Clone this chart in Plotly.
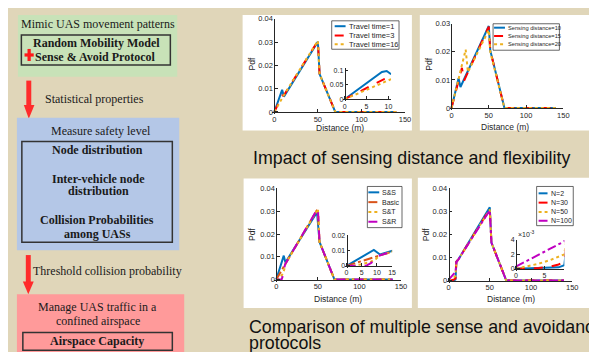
import plotly.graph_objects as go

W, H = 597, 352
def fx(p): return p / W
def fy(p): return 1 - p / H

# ---------------- data ----------------
# Panel 1: impact of travel time
p1_names = ["Travel time=1", "Travel time=3", "Travel time=16"]
p1_x = [[0, 8, 9, 11, 50, 52, 70, 140],
        [0, 9, 11, 50, 52, 70, 140],
        [0, 10, 50, 52, 70, 140]]
p1_y = [[0, 0.0092, 0.0095, 0.0066, 0.0302, 0.0163, 0, 0],
        [0, 0.0070, 0.0072, 0.0305, 0.0163, 0, 0],
        [0, 0.0066, 0.0306, 0.0163, 0, 0]]
p1_inset_x = [[0, 8.5, 9.6, 10.6], [0, 9, 10, 10.6], [0, 10.6]]
p1_inset_y = [[0, 0.094, 0.097, 0.086], [0, 0.069, 0.072, 0.071], [0, 0.069]]

# Panel 2: impact of sensing distance
p2_names = ["Sensing distance=10", "Sensing distance=15", "Sensing distance=20"]
p2_x = [[0, 9.5, 12, 50, 52, 71, 140],
        [0, 10, 14, 17, 50, 52, 71, 140],
        [0, 19, 22, 50, 52, 71, 140]]
p2_y = [[0, 0.0106, 0.0075, 0.0292, 0.0205, 0, 0],
        [0, 0.0106, 0.0143, 0.0098, 0.0290, 0.0205, 0, 0],
        [0, 0.0208, 0.0128, 0.0278, 0.0200, 0, 0]]

# Panel 3: sense & avoid protocols
p3_names = ["S&S", "Basic", "S&T", "S&R"]
p3_x = [[0, 9, 11, 49, 52, 70, 140],
        [0, 10, 50, 52, 70, 140],
        [0, 2, 5, 8, 9.6, 11, 50, 52, 70, 140],
        [0, 6.4, 8, 9.6, 10.5, 50, 52, 70, 140]]
p3_y = [[0, 0.0105, 0.0075, 0.0296, 0.0165, 0, 0],
        [0, 0.0063, 0.0312, 0.0165, 0, 0],
        [0, 0.0001, 0.0010, 0.0027, 0.0044, 0.0069, 0.0310, 0.0165, 0, 0],
        [0, 0, 0.0018, 0.0043, 0.0066, 0.0313, 0.0165, 0, 0]]

# Panel 4: number of UAS
p4_names = ["N=2", "N=30", "N=50", "N=100"]
p4_x = [[0, 6, 7.5, 8.5, 9.5, 12, 50, 52, 70, 140],
        [0, 4, 6, 7.5, 8.5, 9.5, 12, 50, 52, 70, 140],
        [0, 2, 4, 6, 8.5, 9.5, 12, 50, 52, 70, 140],
        [0, 2, 4, 6, 8.5, 9.5, 12, 50, 52, 70, 140]]
p4_y = [[0, 0.0001, 0.0002, 0.0005, 0.0082, 0.0092, 0.0318, 0.0165, 0, 0],
        [0, 0.0001, 0.0003, 0.0006, 0.0010, 0.0082, 0.0092, 0.0310, 0.0165, 0, 0],
        [0, 0.0003, 0.0007, 0.0012, 0.0020, 0.0082, 0.0092, 0.0308, 0.0165, 0, 0],
        [0.0003, 0.0011, 0.0019, 0.0027, 0.0038, 0.0080, 0.0092, 0.0305, 0.0165, 0, 0]]

main_xticks = [0, 50, 100, 150]
main_yticks4 = [0, 0.01, 0.02, 0.03, 0.04]
main_yticks3 = [0, 0.01, 0.02, 0.03]

BLUE, RED, YEL, ORG, MAG = "#0072BD", "#FF0000", "#EDB120", "#D95319", "#C000C0"
p1_style = [(BLUE, "solid"), (RED, "dash"), (YEL, "dot")]
p2_style = [(BLUE, "solid"), (RED, "dash"), (YEL, "dot")]
p3_style = [(BLUE, "solid"), (ORG, "dashdot"), (YEL, "dot"), (MAG, "dash")]
p4_style = [(BLUE, "solid"), (RED, "dash"), (YEL, "dot"), (MAG, "dashdot")]

# ---------------- figure ----------------
BG = "#E0D6B9"
AX = "#262626"
SANS = "Liberation Sans"
SERIF = "Liberation Serif"

fig = go.Figure()
layout = dict(width=W, height=H, margin=dict(l=0, r=0, t=0, b=0),
              paper_bgcolor=BG, plot_bgcolor="rgba(0,0,0,0)", showlegend=False)
shapes, annotations = [], []

def add_axes(idx, xpx, ypx, xr, yr, xt, yt, xtt=None, ytt=None, box=False, fs=7.5, pad=2):
    # xpx=(left,right) pixel, ypx=(bottom,top) pixel
    xs = (xr[1] - xr[0]) / (xpx[1] - xpx[0])
    ys = (yr[1] - yr[0]) / (ypx[0] - ypx[1])
    sfx = "" if idx == 1 else str(idx)
    common = dict(showline=True, linecolor=AX, linewidth=0.8, ticks="inside", ticklen=3,
                  tickcolor=AX, tickwidth=0.8, showgrid=False, zeroline=False,
                  mirror=box, tickfont=dict(family=SANS, size=fs, color=AX), fixedrange=True)
    layout["xaxis" + sfx] = dict(common, domain=[fx(xpx[0] - pad), fx(xpx[1])],
                                 range=[xr[0] - pad * xs, xr[1]], anchor="free", position=fy(ypx[0]),
                                 tickvals=xt, ticktext=xtt if xtt else [f"{v:g}" for v in xt])
    layout["yaxis" + sfx] = dict(common, domain=[fy(ypx[0] + pad), fy(ypx[1])],
                                 range=[yr[0] - pad * ys, yr[1]], anchor="free", position=fx(xpx[0]),
                                 tickvals=yt, ticktext=ytt if ytt else [f"{v:g}" for v in yt])
    return "x" + sfx, "y" + sfx

def add_lines(xs, ys, styles, xa, ya):
    for x, y, (c, d) in zip(xs, ys, styles):
        fig.add_trace(go.Scatter(x=x, y=y, mode="lines", xaxis=xa, yaxis=ya,
                                 line=dict(color=c, width=2, dash=d), hoverinfo="skip"))

def panel(x0, y0, x1, y1):
    shapes.append(dict(type="rect", xref="paper", yref="paper", x0=fx(x0), x1=fx(x1),
                       y0=fy(y1), y1=fy(y0), fillcolor="white", line=dict(width=0), layer="below"))

def text(s, x, y, size, family=SANS, xanchor="center", color="#1a1a1a", bold=False, angle=0):
    s = s.replace("&", "&amp;")
    annotations.append(dict(text=f"<b>{s}</b>" if bold else s, x=fx(x), y=fy(y), xref="paper",
                            yref="paper", xanchor=xanchor, yanchor="middle", showarrow=False,
                            textangle=angle, font=dict(family=family, size=size, color=color)))

def legend(box, ys, sx, tx, names, styles, fs):
    shapes.append(dict(type="rect", xref="paper", yref="paper", x0=fx(box[0]), x1=fx(box[2]),
                       y0=fy(box[3]), y1=fy(box[1]), fillcolor="white",
                       line=dict(color=AX, width=0.7)))
    for y, n, (c, d) in zip(ys, names, styles):
        shapes.append(dict(type="line", xref="paper", yref="paper", x0=fx(sx[0]), x1=fx(sx[1]),
                           y0=fy(y), y1=fy(y), line=dict(color=c, width=2, dash=d)))
        text(n, tx, y, fs, xanchor="left", color=AX)

# white panels
panel(237, 3, 408, 121)
panel(416, 3, 595, 121)
panel(238, 170, 408, 302)
panel(414, 169, 593, 302)

# Panel 1
xa, ya = add_axes(1, (269, 401), (102, 7), (0, 150), (0, 0.04), main_xticks, main_yticks4)
add_lines(p1_x, p1_y, p1_style, xa, ya)
xa, ya = add_axes(5, (340, 387), (89, 57), (0, 10.6), (0, 0.108), [0, 5, 10], [0, 0.05, 0.1],
                  box=True, fs=7)
add_lines(p1_inset_x, p1_inset_y, p1_style, xa, ya)
legend((327, 9, 395, 38), [14.5, 24, 33], (330, 341), 342, p1_names, p1_style, 7.5)
text("Distance (m)", 335, 118, 8.5, color=AX)
text("Pdf", 246, 53, 8.5, color=AX, angle=-90)

# Panel 2
xa, ya = add_axes(2, (448, 561), (98, 12), (0, 150), (0, 0.03), main_xticks, main_yticks3)
add_lines(p2_x, p2_y, p2_style, xa, ya)
legend((490, 12, 557, 39), [16, 24.5, 33], (491, 502), 503, p2_names, p2_style, 5.7)
text("Distance (m)", 502, 117, 8.5, color=AX)
text("Pdf", 425, 53, 8.5, color=AX, angle=-90)

# Panel 3
xa, ya = add_axes(3, (271, 397), (273, 180), (0, 150), (0, 0.04), main_xticks, main_yticks4)
add_lines(p3_x, p3_y, p3_style, xa, ya)
xa, ya = add_axes(6, (342, 388), (259, 228), (0, 15), (0, 0.02), [0, 5, 10, 15], [0, 0.01, 0.02],
                  box=True, fs=7)
add_lines(p3_x, p3_y, p3_style, xa, ya)
legend((363, 178, 398, 220), [184, 194, 204, 214], (364, 375), 376, p3_names, p3_style, 7)
text("Distance (m)", 333, 293, 8.5, color=AX)
text("Pdf", 247, 227, 8.5, color=AX, angle=-90)

# Panel 4
xa, ya = add_axes(4, (445, 570), (274, 180), (0, 150), (0, 0.04), main_xticks, main_yticks4)
add_lines(p4_x, p4_y, p4_style, xa, ya)
xa, ya = add_axes(7, (513, 562), (262, 232.5), (0, 8.5), (0, 0.004), [0, 5], [0, 0.002, 0.004],
                  ytt=["0", "2", "4"], box=True, fs=7)
add_lines(p4_x, p4_y, p4_style, xa, ya)
legend((534, 178, 571, 218), [185, 194.5, 204, 213], (536, 545), 546, p4_names, p4_style, 7)
text("×10<sup>-3</sup>", 513, 226, 7, xanchor="left", color=AX)
text("Distance (m)", 508, 293, 8.5, color=AX)
text("Pdf", 423, 227, 8.5, color=AX, angle=-90)

# big captions
text("Impact of sensing distance and flexibility", 245, 149, 17.8, xanchor="left", color="#111")
text("Comparison of multiple sense and avoidance", 241, 321.5, 17.8, xanchor="left", color="#111")
text("protocols", 241, 338, 17.8, xanchor="left", color="#111")

# ---------------- left flow diagram ----------------
def rect(x0, y0, x1, y1, fill=None, lc=None, lw=0):
    shapes.append(dict(type="rect", xref="paper", yref="paper", x0=fx(x0), x1=fx(x1),
                       y0=fy(y1), y1=fy(y0), fillcolor=fill if fill else "rgba(0,0,0,0)",
                       line=dict(color=lc if lc else "rgba(0,0,0,0)", width=lw)))

def path(pts, fill):
    d = "M " + " L ".join(f"{fx(x)},{fy(y)}" for x, y in pts) + " Z"
    shapes.append(dict(type="path", xref="paper", yref="paper", path=d, fillcolor=fill,
                       line=dict(width=0)))

ARROW = "#FF2B2B"
rect(10, 3, 171, 66, fill="#C8E2B8")
rect(13.5, 23.5, 164, 54, lc="#333333", lw=1.5)
text("Mimic UAS movement patterns", 91, 12, 12, family=SERIF)
text("Random Mobility Model", 89, 32, 12, family=SERIF, bold=True)
text("Sense & Avoid Protocol", 88.5, 46, 12, family=SERIF, bold=True)
rect(16.7, 42.2, 26, 45.5, fill="#FF1A1A")
rect(19.7, 37.7, 23, 50, fill="#FF1A1A")

rect(18.5, 70, 23.5, 96, fill=ARROW)
path([(16, 95), (26.7, 95), (21, 109)], ARROW)
text("Statistical properties", 35, 89, 12, family=SERIF, xanchor="left")

rect(9, 108, 173, 243, fill="#B4C7E7")
rect(14, 132, 166, 235, lc="#333333", lw=1.5)
text("Measure safety level", 94, 121, 12, family=SERIF)
text("Node distribution", 90, 141, 12, family=SERIF, bold=True)
text("Inter-vehicle node", 91, 170, 12, family=SERIF, bold=True)
text("distribution", 91, 183, 12, family=SERIF, bold=True)
text("Collision Probabilities", 90, 212, 12, family=SERIF, bold=True)
text("among UASs", 90, 227, 12, family=SERIF, bold=True)

rect(18, 248, 23, 276, fill=ARROW)
path([(15, 275), (26, 275), (20.5, 288)], ARROW)
text("Threshold collision probability", 23, 264, 12, family=SERIF, xanchor="left")

rect(9, 288, 178, 352, fill="#FF9A9A")
text("Manage UAS traffic in a", 90.5, 301, 12, family=SERIF)
text("confined airspace", 90.5, 315, 12, family=SERIF)
rect(15, 327, 166, 345, lc="#333333", lw=1.5)
text("Airspace Capacity", 90, 336, 12, family=SERIF, bold=True)

layout["shapes"] = shapes
layout["annotations"] = annotations
fig.update_layout(**layout)
fig.write_html("out.html")
